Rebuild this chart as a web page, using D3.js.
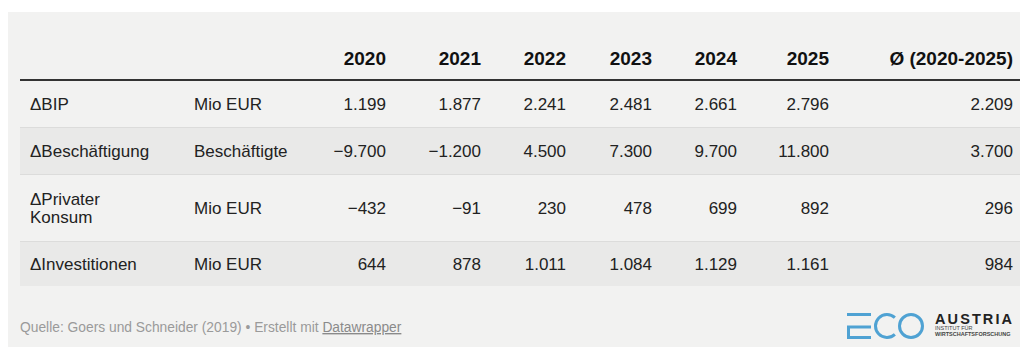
<!DOCTYPE html>
<html>
<head>
<meta charset="utf-8">
<script src="https://cdn.jsdelivr.net/npm/d3@7"></script>
<style>
  body { margin: 0; background: #fff; }
  svg { display: block; font-family: 'Liberation Sans', Arial, sans-serif; }
</style>
</head>
<body>
<div id="chartbox"></div>
<script>
const years = ['2020', '2021', '2022', '2023', '2024', '2025']
const avgLabel = 'Ø (2020-2025)'
const labels = [['ΔBIP'], ['ΔBeschäftigung'], ['ΔPrivater', 'Konsum'], ['ΔInvestitionen']]
const units = ['Mio EUR', 'Beschäftigte', 'Mio EUR', 'Mio EUR']
const bip = [1199, 1877, 2241, 2481, 2661, 2796]
const beschaeftigung = [-9700, -1200, 4500, 7300, 9700, 11800]
const konsum = [-432, -91, 230, 478, 699, 892]
const investitionen = [644, 878, 1011, 1084, 1129, 1161]
const avg = [2209, 3700, 296, 984]
const source = 'Quelle: Goers und Schneider (2019) • Erstellt mit '

const WIDTH = 1020
const HEIGHT = 347

const de = d3.formatLocale({ decimal: ',', thousands: '.', grouping: [3], currency: ['', ' €'], minus: '\u2212' })
const fmt = de.format(',d')

const rows = [bip, beschaeftigung, konsum, investitionen].map((vals, i) => ({
  label: labels[i],
  unit: units[i],
  cells: [...vals, avg[i]]
}))

const cols = [...years, 'avg']
// right edge of every number column
const colX = d3.scaleOrdinal()
  .domain(cols)
  .range([386, 481, 566, 652, 737, 829, 1013])

// row boundaries
const rowTop = d3.scaleOrdinal().domain(d3.range(5)).range([81, 127, 174, 241, 286])
const rowMid = i => (rowTop(i) + rowTop(i + 1)) / 2

const svg = d3.select('#chartbox')
  .append('svg')
  .attr('width', WIDTH)
  .attr('height', HEIGHT)

svg.append('rect')
  .attr('x', 8).attr('y', 12)
  .attr('width', WIDTH - 8).attr('height', HEIGHT - 12)
  .attr('fill', '#f2f2f1')

const body = svg.append('g')

body.selectAll('rect.row')
  .data(rows)
  .enter()
  .append('rect')
  .attr('class', 'row')
  .attr('x', 20)
  .attr('y', (d, i) => rowTop(i))
  .attr('width', WIDTH - 20)
  .attr('height', (d, i) => rowTop(i + 1) - rowTop(i))
  .attr('fill', (d, i) => i % 2 ? '#e9e9e8' : 'none')

body.selectAll('line.sep')
  .data(d3.range(1, 4))
  .enter()
  .append('line')
  .attr('class', 'sep')
  .attr('x1', 20).attr('x2', WIDTH)
  .attr('y1', d => rowTop(d) + 0.5).attr('y2', d => rowTop(d) + 0.5)
  .attr('stroke', '#dcdcdb')

// header
const head = svg.append('g')
  .attr('font-weight', 'bold')
  .attr('font-size', 19)
  .attr('fill', '#111')
  .attr('text-anchor', 'end')

head.selectAll('text')
  .data([...years, avgLabel])
  .enter()
  .append('text')
  .attr('x', (d, i) => colX(cols[i]))
  .attr('y', 65)
  .text(d => d)

svg.append('line')
  .attr('x1', 20).attr('x2', WIDTH)
  .attr('y1', 80).attr('y2', 80)
  .attr('stroke', '#333')
  .attr('stroke-width', 2)

const rowG = body.selectAll('g.r')
  .data(rows)
  .enter()
  .append('g')
  .attr('class', 'r')
  .attr('font-size', 17)
  .attr('fill', '#222')

rowG.append('text')
  .attr('x', 30)
  .attr('y', (d, i) => rowMid(i) + 6 - (d.label.length - 1) * 9)
  .selectAll('tspan')
  .data(d => d.label)
  .enter()
  .append('tspan')
  .attr('x', 30)
  .attr('dy', (d, i) => i ? 18 : 0)
  .text(d => d)

rowG.append('text')
  .attr('x', 194)
  .attr('y', (d, i) => rowMid(i) + 6)
  .text(d => d.unit)

rowG.each(function (d, i) {
  d3.select(this).selectAll('text.v')
    .data(d.cells)
    .enter()
    .append('text')
    .attr('class', 'v')
    .attr('text-anchor', 'end')
    .attr('x', (v, j) => colX(cols[j]))
    .attr('y', rowMid(i) + 6)
    .text(v => fmt(v))
})

// footer
const foot = svg.append('text')
  .attr('x', 20)
  .attr('y', 332)
  .attr('font-size', 13.8)
  .attr('fill', '#9a9a9a')
foot.append('tspan').text(source)
foot.append('tspan').attr('text-decoration', 'underline').attr('fill', '#8a8a8a').text('Datawrapper')

// logo
const logo = svg.append('g')
  .attr('fill', 'none')
  .attr('stroke', '#4fa2d3')
  .attr('stroke-width', 3)

logo.append('path').attr('d', 'M847,314.5 H871')
logo.append('path').attr('d', 'M871,327 H848.5 V337.5 H871')

const c = d3.path()
c.arc(887, 326, 11.5, -Math.PI * 0.26, -Math.PI * 1.74, true)
logo.append('path').attr('d', c.toString())
logo.append('circle').attr('cx', 911).attr('cy', 326).attr('r', 11.5)

svg.append('text')
  .attr('x', 935).attr('y', 324)
  .attr('font-size', 14.5)
  .attr('font-weight', 'bold')
  .attr('letter-spacing', 2.1)
  .attr('fill', '#222')
  .text('AUSTRIA')

svg.append('text')
  .attr('x', 935).attr('y', 330)
  .attr('font-size', 5.5)
  .attr('fill', '#444')
  .text('INSTITUT FÜR')

svg.append('text')
  .attr('x', 935).attr('y', 336)
  .attr('font-size', 5.5)
  .attr('font-weight', 'bold')
  .attr('fill', '#444')
  .text('WIRTSCHAFTSFORSCHUNG')
</script>
</body>
</html>
